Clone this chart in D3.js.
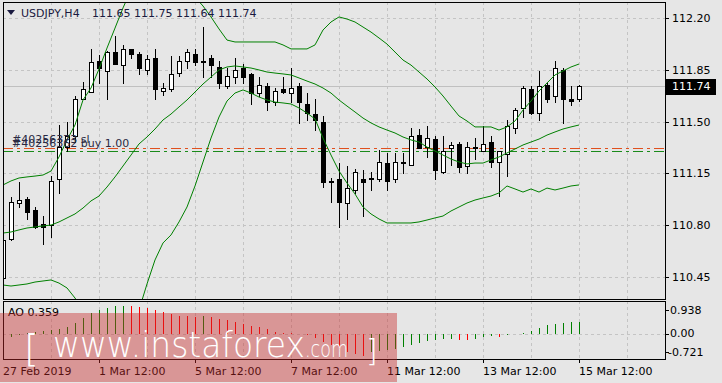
<!DOCTYPE html>
<html>
<head>
<meta charset="UTF-8">
<title>USDJPY H4</title>
<script src="https://d3js.org/d3.v7.min.js"></script>
<style>
  body { margin: 0; background: #e6e6e6; }
  svg { display: block; }
  text { font-family: "DejaVu Sans", sans-serif; font-size: 11px; }
</style>
</head>
<body>
<svg width="722" height="383"></svg>
<script>
// H4 bars, 27 Feb 12:00 .. 15 Mar 12:00
const opens = [110.44,110.71,110.95,110.98,110.90,110.81,110.80,111.11,111.33,111.40,
  111.65,111.70,111.91,111.84,111.97,111.88,111.99,111.96,111.85,111.93,
  111.71,111.72,111.83,111.91,111.96,111.90,111.93,111.87,111.74,111.80,
  111.86,111.82,111.69,111.74,111.63,111.72,111.69,111.74,111.62,111.55,
  111.50,111.10,111.11,110.95,111.04,111.11,111.12,111.11,111.22,111.11,
  111.22,111.21,111.41,111.33,111.38,111.16,111.32,111.35,111.20,111.33,
  111.30,111.36,111.23,111.28,111.46,111.59,111.72,111.56,111.75,111.67,
  111.85,111.65,111.65];
const highs = [110.73,110.99,111.09,110.99,110.92,110.86,111.13,111.48,111.50,111.67,
  111.77,111.99,111.95,111.98,112.08,112.02,111.99,111.97,111.95,111.99,
  111.76,111.94,111.94,111.99,111.99,112.14,111.95,111.91,111.86,111.93,
  111.89,111.83,111.80,111.76,111.73,111.80,111.86,111.76,111.69,111.65,
  111.54,111.12,111.22,111.20,111.18,111.17,111.16,111.31,111.29,111.29,
  111.29,111.46,111.45,111.47,111.40,111.40,111.36,111.36,111.36,111.39,
  111.47,111.40,111.30,111.51,111.59,111.74,111.74,111.84,111.76,111.91,
  111.86,111.74,111.75];
const lows = [110.40,110.70,110.92,110.84,110.78,110.67,110.72,111.02,111.30,111.36,
  111.65,111.70,111.76,111.65,111.89,111.76,111.93,111.82,111.82,111.65,
  111.68,111.71,111.81,111.86,111.88,111.80,111.80,111.73,111.73,111.76,
  111.76,111.62,111.67,111.58,111.61,111.69,111.63,111.49,111.51,111.44,
  111.06,110.96,110.79,110.84,111.02,110.86,111.04,111.10,111.04,111.09,
  111.15,111.21,111.32,111.26,111.11,111.15,111.21,111.16,111.15,111.25,
  111.30,111.19,111.00,111.13,111.42,111.53,111.55,111.51,111.63,111.63,
  111.49,111.61,111.64];
const closes = [110.70,110.96,110.97,110.89,110.79,110.79,111.10,111.33,111.40,111.65,
  111.72,111.90,111.86,111.97,111.89,111.99,111.96,111.86,111.92,111.72,
  111.73,111.82,111.91,111.97,111.90,111.91,111.88,111.76,111.81,111.85,
  111.80,111.69,111.75,111.63,111.71,111.70,111.73,111.63,111.56,111.51,
  111.09,111.09,110.96,111.05,111.16,111.09,111.11,111.23,111.10,111.23,
  111.23,111.40,111.32,111.39,111.17,111.30,111.34,111.19,111.33,111.32,
  111.35,111.23,111.30,111.47,111.58,111.73,111.56,111.74,111.65,111.86,
  111.65,111.64,111.74];

// Bollinger bands
const upperBand = [111.072,111.099,111.119,111.126,111.132,111.139,111.166,111.261,111.376,111.477,
  111.646,111.727,111.855,111.997,112.132,112.268,112.389,112.491,112.558,112.592,
  112.605,112.592,112.524,112.423,112.342,112.281,112.207,112.126,112.051,112.038,
  112.038,112.038,112.038,112.038,112.038,112.018,111.991,111.991,111.991,112.018,
  112.119,112.173,112.207,112.193,112.173,112.139,112.105,112.065,112.024,111.970,
  111.916,111.882,111.835,111.788,111.734,111.673,111.605,111.538,111.504,111.464,
  111.464,111.464,111.443,111.464,111.504,111.578,111.639,111.707,111.761,111.815,
  111.842,111.869,111.889];
const middleBand = [110.747,110.754,110.768,110.781,110.788,110.795,110.801,110.822,110.849,110.876,
  110.916,110.964,110.997,111.058,111.126,111.200,111.274,111.349,111.396,111.450,
  111.511,111.551,111.599,111.646,111.700,111.754,111.801,111.849,111.869,111.876,
  111.869,111.862,111.849,111.835,111.828,111.822,111.815,111.795,111.774,111.754,
  111.727,111.693,111.646,111.605,111.565,111.524,111.491,111.464,111.443,111.423,
  111.396,111.376,111.362,111.328,111.301,111.274,111.247,111.227,111.214,111.220,
  111.220,111.241,111.261,111.288,111.315,111.342,111.362,111.382,111.409,111.430,
  111.450,111.464,111.477];
const lowerBand = [110.396,110.389,110.396,110.403,110.416,110.423,110.430,110.409,110.376,110.308,
  110.227,110.146,110.092,110.051,110.024,110.024,110.051,110.227,110.403,110.565,
  110.680,110.734,110.822,110.923,111.065,111.227,111.389,111.531,111.639,111.693,
  111.714,111.693,111.666,111.646,111.632,111.626,111.619,111.592,111.558,111.518,
  111.389,111.274,111.166,111.085,111.011,110.923,110.876,110.842,110.815,110.815,
  110.815,110.815,110.822,110.835,110.849,110.862,110.896,110.923,110.950,110.970,
  110.984,110.997,111.018,111.065,111.045,111.024,111.045,111.024,111.051,111.038,
  111.051,111.065,111.072];

// Awesome Oscillator
const aoValues = [-0.20,-0.12,-0.05,0.02,0.06,0.09,0.11,0.14,0.21,0.31,
  0.47,0.62,0.72,0.77,0.84,0.85,0.84,0.80,0.77,0.72,
  0.67,0.60,0.55,0.53,0.51,0.55,0.51,0.46,0.41,0.36,
  0.29,0.23,0.19,0.13,0.06,0.02,0.01,-0.01,-0.05,-0.14,
  -0.25,-0.35,-0.46,-0.57,-0.63,-0.69,-0.57,-0.53,-0.51,-0.46,
  -0.40,-0.35,-0.28,-0.23,-0.20,-0.18,-0.17,-0.19,-0.20,-0.16,
  -0.12,-0.08,-0.10,-0.05,-0.02,0.01,0.08,0.17,0.26,0.29,
  0.33,0.35,0.359];

const priceTicks = [110.45,110.80,111.15,111.50,111.85,112.20];
const aoTicks = [0.938,0.00,-0.721];
const timeLabels = ["27 Feb 2019","1 Mar 12:00","5 Mar 12:00","7 Mar 12:00","11 Mar 12:00","13 Mar 12:00","15 Mar 12:00"];
const timeBars = [0,12,24,36,48,60,72];
const orders = [{ label: "#40256373 sl", price: 111.324, color: "#e0501e" },
                { label: "#40256362 buy 1.00", price: 111.299, color: "#1a8a1a" }];
const bidPrice = 111.74;

const svg = d3.select("svg");
const left = 3, right = 665, mainTop = 2, mainBottom = 299, aoTop = 301, aoBottom = 359;

const x = d3.scaleLinear().domain([0, 72]).range([3, 579]);
const y = d3.scaleLinear().domain([110.45, 112.20]).range([277, 18]);
const yAo = d3.scaleLinear().domain([-0.721, 0.938]).range([357, 303]);
const px = v => Math.round(v) + 0.5;

svg.append("rect").attr("width", 722).attr("height", 383).attr("fill", "#e6e6e6");

const defs = svg.append("defs");
defs.append("clipPath").attr("id", "mainClip").append("rect")
  .attr("x", left + 1).attr("y", mainTop + 1).attr("width", right - left - 1).attr("height", mainBottom - mainTop - 1);
defs.append("clipPath").attr("id", "aoClip").append("rect")
  .attr("x", left + 1).attr("y", aoTop + 1).attr("width", right - left - 1).attr("height", aoBottom - aoTop - 1);

// grid
const grid = svg.append("g").attr("stroke", "#c4c4c4").attr("stroke-dasharray", "3,3")
  .attr("shape-rendering", "crispEdges");
priceTicks.forEach(p => {
  grid.append("line").attr("x1", left).attr("x2", right).attr("y1", px(y(p))).attr("y2", px(y(p)));
});
d3.range(6, 79, 6).forEach(i => {
  grid.append("line").attr("x1", px(x(i))).attr("x2", px(x(i))).attr("y1", mainTop).attr("y2", mainBottom);
  grid.append("line").attr("x1", px(x(i))).attr("x2", px(x(i))).attr("y1", aoTop).attr("y2", aoBottom);
});
grid.append("line").attr("x1", left).attr("x2", right).attr("y1", px(yAo(0))).attr("y2", px(yAo(0)));

// bid line
svg.append("line").attr("x1", left).attr("x2", right)
  .attr("y1", px(y(bidPrice))).attr("y2", px(y(bidPrice)))
  .attr("stroke", "#c0c0c0").attr("shape-rendering", "crispEdges");

// order lines
orders.forEach(o => {
  svg.append("line").attr("x1", left).attr("x2", right)
    .attr("y1", px(y(o.price))).attr("y2", px(y(o.price)))
    .attr("stroke", o.color).attr("stroke-dasharray", "10,4,3,4")
    .attr("shape-rendering", "crispEdges");
});

// candles
const candles = svg.append("g").attr("clip-path", "url(#mainClip)").attr("shape-rendering", "crispEdges");
opens.forEach((o, i) => {
  const c = closes[i], cx = Math.round(x(i));
  candles.append("line").attr("x1", cx + 0.5).attr("x2", cx + 0.5)
    .attr("y1", Math.round(y(highs[i]))).attr("y2", Math.round(y(lows[i])) + 1)
    .attr("stroke", "#000");
  const top = Math.round(y(Math.max(o, c))), bot = Math.round(y(Math.min(o, c)));
  if (bot - top < 1) {
    candles.append("line").attr("x1", cx - 2).attr("x2", cx + 3)
      .attr("y1", top + 0.5).attr("y2", top + 0.5).attr("stroke", "#000");
  } else {
    candles.append("rect").attr("x", cx - 1.5).attr("y", top + 0.5)
      .attr("width", 4).attr("height", bot - top)
      .attr("fill", c >= o ? "#fff" : "#000").attr("stroke", "#000");
  }
});

// bands
const bandLine = arr => d3.line().x((d, i) => x(i)).y(d => y(d))(arr);
const bands = svg.append("g").attr("clip-path", "url(#mainClip)");
[upperBand, middleBand, lowerBand].forEach(b => {
  bands.append("path").attr("d", bandLine(b)).attr("fill", "none").attr("stroke", "#008000").attr("stroke-width", 1);
});

// AO histogram
const ao = svg.append("g").attr("clip-path", "url(#aoClip)").attr("shape-rendering", "crispEdges");
aoValues.forEach((v, i) => {
  const up = i > 0 && v > aoValues[i - 1];
  ao.append("line").attr("x1", px(x(i))).attr("x2", px(x(i)))
    .attr("y1", Math.round(yAo(0))).attr("y2", Math.round(yAo(v)))
    .attr("stroke", up ? "#008000" : "#ff0000");
});

// frames
const frames = svg.append("g").attr("fill", "none").attr("stroke", "#000").attr("shape-rendering", "crispEdges");
frames.append("rect").attr("x", left + 0.5).attr("y", mainTop + 0.5).attr("width", right - left).attr("height", mainBottom - mainTop);
frames.append("rect").attr("x", left + 0.5).attr("y", aoTop + 0.5).attr("width", right - left).attr("height", aoBottom - aoTop);

// price axis
priceTicks.forEach(p => {
  const yy = px(y(p));
  frames.append("line").attr("x1", right).attr("x2", right + 4).attr("y1", yy).attr("y2", yy);
  svg.append("text").attr("x", 672).attr("y", yy).attr("dy", "0.36em").attr("fill", "#000").text(p.toFixed(2));
});
svg.append("rect").attr("x", 666).attr("y", Math.round(y(bidPrice)) - 7).attr("width", 50).attr("height", 16).attr("fill", "#000");
svg.append("text").attr("x", 672).attr("y", px(y(bidPrice))).attr("dy", "0.36em").attr("fill", "#fff").text(bidPrice.toFixed(2));

// AO axis
aoTicks.forEach((v, i) => {
  const yy = i === 0 ? yAo(v) + 7 : i === 2 ? yAo(v) - 5 : yAo(v);
  frames.append("line").attr("x1", right).attr("x2", right + 4).attr("y1", px(yy)).attr("y2", px(yy));
  svg.append("text").attr("x", v < 0 ? 668 : 670).attr("y", yy).attr("dy", "0.36em").attr("fill", "#000")
    .text(v === 0 ? "0.00" : String(v));
});
svg.append("text").attr("x", 8).attr("y", 316).attr("fill", "#000").text("AO " + aoValues[aoValues.length - 1]);

// time axis
timeBars.forEach((b, i) => {
  if (i > 0) frames.append("line").attr("x1", px(x(b))).attr("x2", px(x(b))).attr("y1", aoBottom).attr("y2", aoBottom + 4);
  svg.append("text").attr("x", x(b)).attr("y", 375).attr("fill", "#000").text(timeLabels[i]);
});

// header
svg.append("path").attr("d", "M7,10L15,10L11,15Z").attr("fill", "#1a1a40");
svg.append("text").attr("x", 21).attr("y", 17).attr("fill", "#1a1a40").text("USDJPY,H4");
svg.append("text").attr("x", 92).attr("y", 17).attr("fill", "#1a1a40")
  .text([opens, highs, lows, closes].map(a => a[a.length - 1].toFixed(2)).join(" "));

// order labels (overlapping, as in the terminal)
orders.forEach((o, i) => {
  svg.append("text").attr("x", 12).attr("y", 143 + i * 4).attr("fill", "#2a2a44").text(o.label);
});

// watermark
svg.append("rect").attr("x", 0).attr("y", 313).attr("width", 397).attr("height", 69)
  .attr("fill", "rgb(200,40,40)").attr("fill-opacity", 0.42);
const wm = svg.append("g").attr("fill", "#fff").style("font-family", "'Open Sans', sans-serif").style("font-weight", 300);
wm.append("text").attr("x", 24).attr("y", 361).style("font-size", "38px").text("[");
wm.append("text").attr("x", 53).attr("y", 357).style("font-size", "36px")
  .attr("textLength", 252).attr("lengthAdjust", "spacingAndGlyphs").text("www.instaforex");
wm.append("text").attr("x", 305).attr("y", 357).style("font-size", "23px")
  .attr("textLength", 43).attr("lengthAdjust", "spacingAndGlyphs").text(".com");
wm.append("text").attr("x", 366).attr("y", 361).style("font-size", "30px").text("]");
</script>
</body>
</html>
